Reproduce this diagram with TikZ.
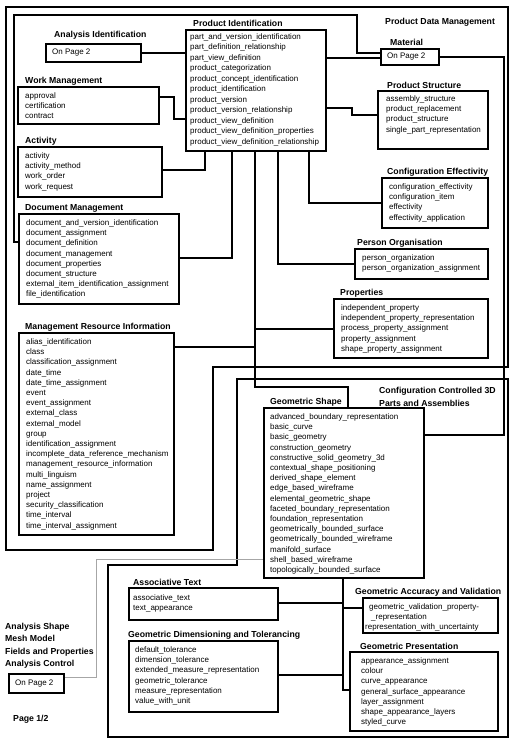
\documentclass[tikz,border=0pt]{standalone}
\usepackage{fontspec}
\setmainfont{Liberation Sans}
\usetikzlibrary{positioning}

\tikzset{
  modbox/.style={draw, line width=1.8pt, anchor=north west, inner sep=0pt},
  entries/.style={anchor=north west, inner sep=0pt, align=left, font=\fontsize{8}{10.2}\selectfont},
  title/.style={anchor=base west, inner sep=0pt, font=\fontsize{8.7}{12.4}\selectfont\bfseries},
  link/.style={line width=1.8pt},
  frame/.style={line width=1.8pt, line join=miter},
  thinlink/.style={gray!70, line width=1pt}
}

\begin{document}
\begin{tikzpicture}[x=1pt,y=-1pt]
\useasboundingbox (0,0) rectangle (513,745);

% group frames
\draw[frame] (6,7) -- (508,7) -- (508,367) -- (213,367) -- (213,550) -- (6,550) -- cycle;
\draw[frame] (237,379) -- (508,379) -- (508,737) -- (108,737) -- (108,565) -- (237,565) -- cycle;
\node[title] (pdmtitle) at (385,24) {Product Data Management};
\node[title, align=left, anchor=north west, font=\fontsize{8.7}{13}\selectfont\bfseries] (cctitle) at (379,386.5)
  {Configuration Controlled 3D\\Parts and Assemblies};

% product data management modules
\node[modbox, minimum width=140pt, minimum height=121pt] (pi) at (185,29) {};
\node[title] (pititle) at ([xshift=8pt,yshift=2.5pt]pi.north west) {Product Identification};
\node[entries, font=\fontsize{8}{10.5}\selectfont] (pilist) at ([xshift=5pt,yshift=-4pt]pi.north west)
  {part\_and\_version\_identification\\part\_definition\_relationship\\part\_view\_definition\\
   product\_categorization\\product\_concept\_identification\\product\_identification\\
   product\_version\\product\_version\_relationship\\product\_view\_definition\\
   product\_view\_definition\_properties\\product\_view\_definition\_relationship};

\node[modbox, minimum width=95pt, minimum height=18pt] (ai) at (45,43) {};
\node[title] (aititle) at ([xshift=9pt,yshift=5.5pt]ai.north west) {Analysis Identification};
\node[entries] (ailist) at ([xshift=7pt,yshift=-6pt]ai.north west) {On Page 2};

\node[modbox, minimum width=141pt, minimum height=37pt] (wm) at (17,86) {};
\node[title] (wmtitle) at ([xshift=8pt,yshift=2.5pt]wm.north west) {Work Management};
\node[entries] (wmlist) at ([xshift=8pt,yshift=-6.5pt]wm.north west) {approval\\certification\\contract};

\node[modbox, minimum width=144pt, minimum height=50pt] (act) at (17,146) {};
\node[title] (acttitle) at ([xshift=8pt,yshift=2.5pt]act.north west) {Activity};
\node[entries] (actlist) at ([xshift=8pt,yshift=-6.5pt]act.north west) {activity\\activity\_method\\work\_order\\work\_request};

\node[modbox, minimum width=160pt, minimum height=90pt] (dm) at (18,213) {};
\node[title] (dmtitle) at ([xshift=7pt,yshift=2.5pt]dm.north west) {Document Management};
\node[entries] (dmlist) at ([xshift=8pt,yshift=-6.5pt]dm.north west)
  {document\_and\_version\_identification\\document\_assignment\\document\_definition\\
   document\_management\\document\_properties\\document\_structure\\
   external\_item\_identification\_assignment\\file\_identification};

\node[modbox, minimum width=155pt, minimum height=202pt] (mri) at (18,332) {};
\node[title] (mrititle) at ([xshift=7pt,yshift=2.5pt]mri.north west) {Management Resource Information};
\node[entries] (mrilist) at ([xshift=8pt,yshift=-6.5pt]mri.north west)
  {alias\_identification\\class\\classification\_assignment\\date\_time\\date\_time\_assignment\\
   event\\event\_assignment\\external\_class\\external\_model\\group\\identification\_assignment\\
   incomplete\_data\_reference\_mechanism\\management\_resource\_information\\multi\_linguism\\
   name\_assignment\\project\\security\_classification\\time\_interval\\time\_interval\_assignment};

\node[modbox, minimum width=58pt, minimum height=16pt] (mat) at (380,48) {};
\node[title] (mattitle) at ([xshift=10pt,yshift=3pt]mat.north west) {Material};
\node[entries] (matlist) at ([xshift=7pt,yshift=-5pt]mat.north west) {On Page 2};

\node[modbox, minimum width=110pt, minimum height=58pt] (ps) at (377,90) {};
\node[title] (pstitle) at ([xshift=10pt,yshift=2pt]ps.north west) {Product Structure};
\node[entries] (pslist) at ([xshift=9pt,yshift=-5.5pt]ps.north west)
  {assembly\_structure\\product\_replacement\\product\_structure\\single\_part\_representation};

\node[modbox, minimum width=106pt, minimum height=50pt] (ce) at (381,177) {};
\node[title] (cetitle) at ([xshift=6pt,yshift=3pt]ce.north west) {Configuration Effectivity};
\node[entries] (celist) at ([xshift=8pt,yshift=-6.5pt]ce.north west)
  {configuration\_effectivity\\configuration\_item\\effectivity\\effectivity\_application};

\node[modbox, minimum width=133pt, minimum height=30pt] (po) at (354,248) {};
\node[title] (potitle) at ([xshift=3pt,yshift=2.5pt]po.north west) {Person Organisation};
\node[entries] (polist) at ([xshift=8pt,yshift=-6.5pt]po.north west)
  {person\_organization\\person\_organization\_assignment};

\node[modbox, minimum width=154pt, minimum height=59pt] (prop) at (333,298) {};
\node[title] (proptitle) at ([xshift=7pt,yshift=2.5pt]prop.north west) {Properties};
\node[entries] (proplist) at ([xshift=8pt,yshift=-6.5pt]prop.north west)
  {independent\_property\\independent\_property\_representation\\process\_property\_assignment\\
   property\_assignment\\shape\_property\_assignment};

% configuration controlled 3d modules
\node[modbox, minimum width=160pt, minimum height=170pt] (gs) at (263,407) {};
\node[title] (gstitle) at ([xshift=7pt,yshift=2.5pt]gs.north west) {Geometric Shape};
\node[entries] (gslist) at ([xshift=7pt,yshift=-6.5pt]gs.north west)
  {advanced\_boundary\_representation\\basic\_curve\\basic\_geometry\\construction\_geometry\\
   constructive\_solid\_geometry\_3d\\contextual\_shape\_positioning\\derived\_shape\_element\\
   edge\_based\_wireframe\\elemental\_geometric\_shape\\faceted\_boundary\_representation\\
   foundation\_representation\\geometrically\_bounded\_surface\\geometrically\_bounded\_wireframe\\
   manifold\_surface\\shell\_based\_wireframe\\topologically\_bounded\_surface};

\node[modbox, minimum width=149pt, minimum height=32pt] (at) at (128,587) {};
\node[title] (attitle) at ([xshift=5pt,yshift=2pt]at.north west) {Associative Text};
\node[entries] (atlist) at ([xshift=5pt,yshift=-7.5pt]at.north west) {associative\_text\\text\_appearance};

\node[modbox, minimum width=149pt, minimum height=71pt] (gdt) at (128,640) {};
\node[title] (gdttitle) at ([xshift=0pt,yshift=3pt]gdt.north west) {Geometric Dimensioning and Tolerancing};
\node[entries] (gdtlist) at ([xshift=7pt,yshift=-6.5pt]gdt.north west)
  {default\_tolerance\\dimension\_tolerance\\extended\_measure\_representation\\
   geometric\_tolerance\\measure\_representation\\value\_with\_unit};

\node[modbox, minimum width=135pt, minimum height=35pt] (gav) at (362,597) {};
\node[title] (gavtitle) at ([xshift=-7pt,yshift=2.5pt]gav.north west) {Geometric Accuracy and Validation};
\node[entries] (gavlist) at ([xshift=3pt,yshift=-6.5pt]gav.north west)
  {\hspace*{4pt}geometric\_validation\_property-\\\hspace*{6pt}\_representation\\representation\_with\_uncertainty};

\node[modbox, minimum width=148pt, minimum height=79pt] (gp) at (349,651) {};
\node[title] (gptitle) at ([xshift=11pt,yshift=2pt]gp.north west) {Geometric Presentation};
\node[entries] (gplist) at ([xshift=12pt,yshift=-6.5pt]gp.north west)
  {appearance\_assignment\\colour\\curve\_appearance\\general\_surface\_appearance\\
   layer\_assignment\\shape\_appearance\_layers\\styled\_curve};

% page 2 reference and page number
\node[title, align=left, anchor=north west, font=\fontsize{8.7}{12.3}\selectfont\bfseries] (antitle) at (5,623)
  {Analysis Shape\\Mesh Model\\Fields and Properties\\Analysis Control};
\node[modbox, minimum width=55pt, minimum height=19pt] (ap) at (8,673) {};
\node[entries] (aplist) at ([xshift=7pt,yshift=-6.5pt]ap.north west) {On Page 2};
\node[title] (pagenum) at (13,721) {Page 1/2};

% connectors
\coordinate (bustop) at ([xshift=70pt]pi.south west);
\coordinate (gsbus) at ([xshift=80pt]gs.south west);
\draw[link] (ai.east) -- (ai.east -| pi.west);
\draw[link] ([yshift=-11pt]wm.north east) -- ++(14,0) |- ([yshift=-90pt]pi.north west);
\draw[link] ([yshift=-24pt]act.north east) -| ([xshift=20pt]pi.south west);
\draw[link] ([yshift=-45pt]dm.north east) -| ([xshift=47pt]pi.south west);
\draw[link] (bustop) -- ++(0,235) -| ([xshift=85pt]gs.north west);
\draw[link] ([yshift=-31pt]prop.north west) -- ([yshift=-31pt]prop.north west -| bustop);
\draw[link] ([yshift=-15pt]mri.north east) -- ([yshift=-15pt]mri.north east -| bustop);
\draw[link] (po.west) -| ([xshift=93pt]pi.south west);
\draw[link] (ce.west) -| ([xshift=124pt]pi.south west);
\draw[link] ([yshift=-79pt]pi.north east) -- ++(25,0) |- ([yshift=-25pt]ps.north west);
\draw[link] ([yshift=-29pt]pi.north east) -- ([yshift=-29pt]pi.north east -| mat.west);
\draw[link] ([yshift=-5pt]mat.north west) -- ++(-23,0) -- ++(0,-38)
  -| ([xshift=-4pt,yshift=-29pt]dm.north west) -- ([yshift=-29pt]dm.north west);
\draw[link] (mat.east) -- ++(64,0) |- ([yshift=-28pt]gs.north east);
\draw[link] (gsbus) |- ([yshift=-39pt]gp.north west);
\draw[link] ([yshift=-16pt]at.north east) -- ([yshift=-16pt]at.north east -| gsbus);
\draw[link] ([yshift=-11pt]gav.north west) -- ([yshift=-11pt]gav.north west -| gsbus);
\draw[link] ([yshift=-35pt]gdt.north east) -- ([yshift=-35pt]gdt.north east -| gsbus);
\draw[thinlink] ([yshift=-4pt]ap.north east) -- ++(32,0) |- ([yshift=-152pt]gs.north west);

\end{tikzpicture}
\end{document}
